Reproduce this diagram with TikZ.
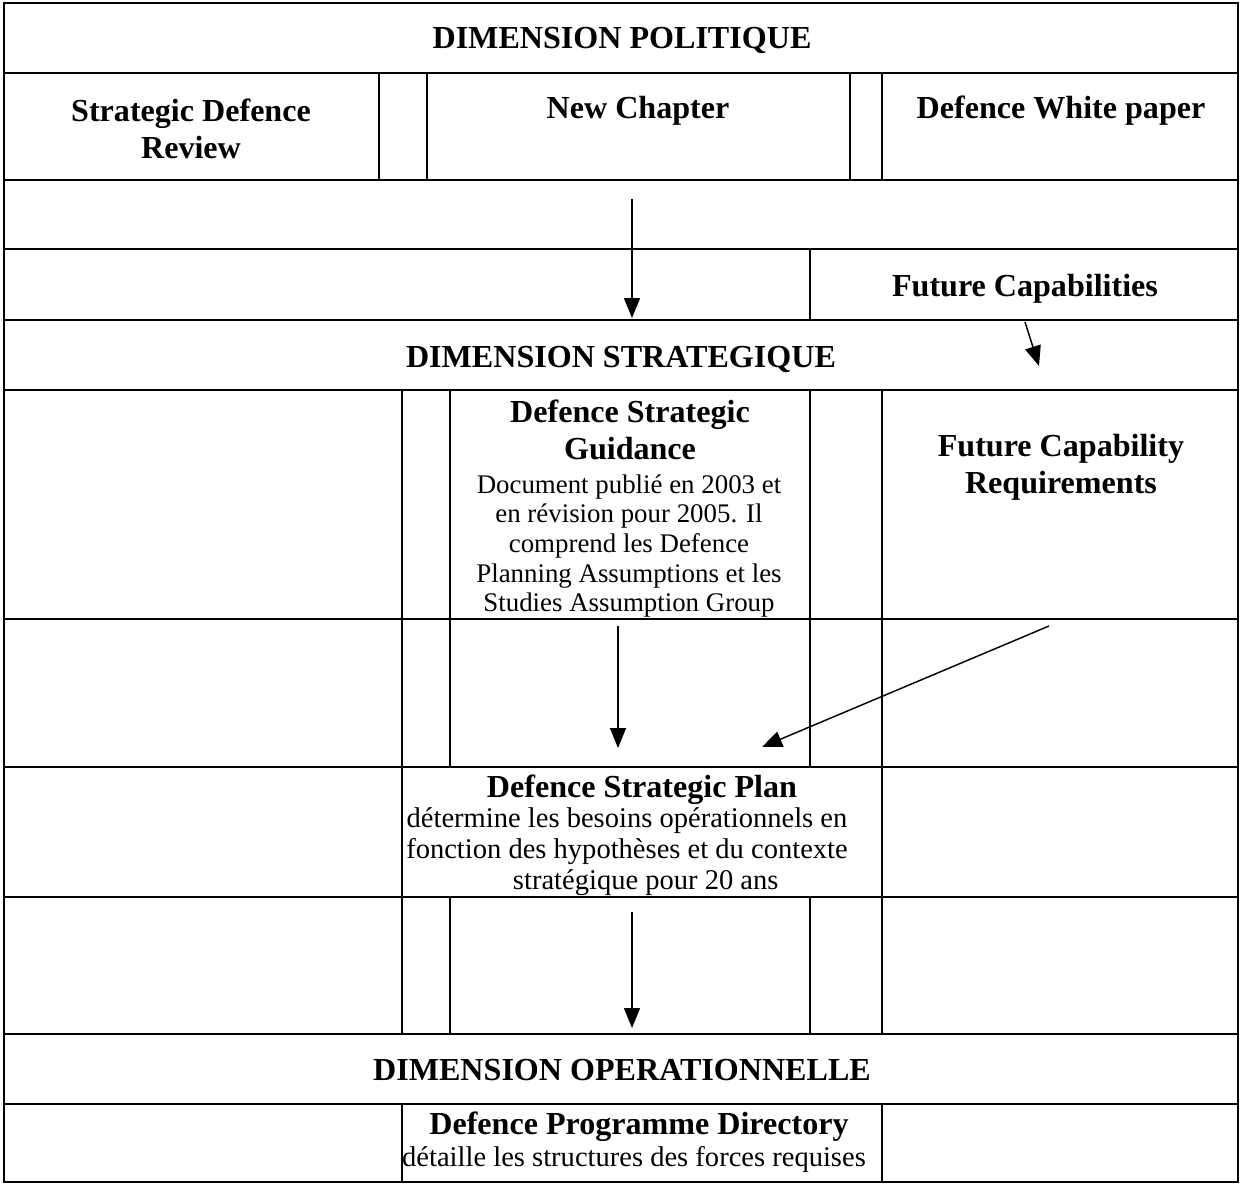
\documentclass[tikz,border=0pt]{standalone}
\usepackage{fontspec}
\setmainfont{Liberation Serif}
\usetikzlibrary{arrows.meta}
\begin{document}
\begin{tikzpicture}[x=0.48pt,y=-0.48pt,
  grid/.style={line width=1.2pt},
  hdr/.style={font=\fontsize{15.4}{17.8}\selectfont\bfseries, align=center, inner sep=0pt},
  bodyA/.style={font=\fontsize{12.9}{14.2}\selectfont, align=center, inner sep=0pt},
  bodyB/.style={font=\fontsize{13.7}{14.9}\selectfont, align=center, inner sep=0pt},
  arr/.style={line width=0.7pt, -{Triangle[length=9.6pt,width=7.7pt]}}]
\useasboundingbox (0,0) rectangle (1241,1185);
% outer frame and full-width rules
\draw[grid] (4,3) rectangle (1238,1182);
\foreach \yy in {73,180,249,320,390,619,767,897,1034,1104}
  \draw[grid] (4,\yy) -- (1238,\yy);
% vertical rules
\foreach \xx in {379,427,850,882} \draw[grid] (\xx,73) -- (\xx,180);
\draw[grid] (810,249) -- (810,320);
\foreach \xx in {402,450,810,882} \draw[grid] (\xx,390) -- (\xx,767);
\foreach \xx in {402,882} \draw[grid] (\xx,767) -- (\xx,897);
\foreach \xx in {402,450,810,882} \draw[grid] (\xx,897) -- (\xx,1034);
\foreach \xx in {402,882} \draw[grid] (\xx,1104) -- (\xx,1182);
% texts
\node[hdr] (pol) at (622,40) {DIMENSION POLITIQUE};
\node[hdr] (sdr) at (191,129) {Strategic Defence\\Review};
\node[hdr] (nc) at (638,111) {New Chapter};
\node[hdr] (dwp) at (1061,111) {Defence White paper};
\node[hdr] (fc) at (1025,289) {Future Capabilities};
\node[hdr] (strat) at (621,359) {DIMENSION STRATEGIQUE};
\node[hdr] (dsgT) at (630,430) {Defence Strategic\\Guidance};
\node[bodyA] (dsgB) at (629,546) {Document publié en 2003 et\\en révision pour 2005. Il\\comprend les Defence\\Planning Assumptions et les\\Studies Assumption Group};
\node[hdr] (fcr) at (1061,467) {Future Capability\\Requirements};
\node[hdr] (dspT) at (642,790) {Defence Strategic Plan};
\node[bodyB] (dspB) at (627,852) {détermine les besoins opérationnels en\\fonction des hypothèses et du contexte\\stratégique pour 20 ans\hspace*{-18pt}};
\node[hdr] (oper) at (622,1070) {DIMENSION OPERATIONNELLE};
\node[hdr] (dpdT) at (639,1127) {Defence Programme Directory};
\node[bodyB] (dpdB) at (634,1159) {détaille les structures des forces requises};
% arrows
\coordinate (a1s) at (632,199); \coordinate (a1e) at (632,318);
\coordinate (a2s) at (1025,322); \coordinate (a2e) at (1039,366);
\coordinate (a3s) at (618,626); \coordinate (a3e) at (618,748);
\coordinate (a4s) at (1049,626); \coordinate (a4e) at (762,747);
\coordinate (a5s) at (632,912); \coordinate (a5e) at (632,1028);
\draw[arr] (a1s) -- (a1e);
\draw[arr] (a2s) -- (a2e);
\draw[arr] (a3s) -- (a3e);
\draw[arr] (a4s) -- (a4e);
\draw[arr] (a5s) -- (a5e);
\end{tikzpicture}
\end{document}
